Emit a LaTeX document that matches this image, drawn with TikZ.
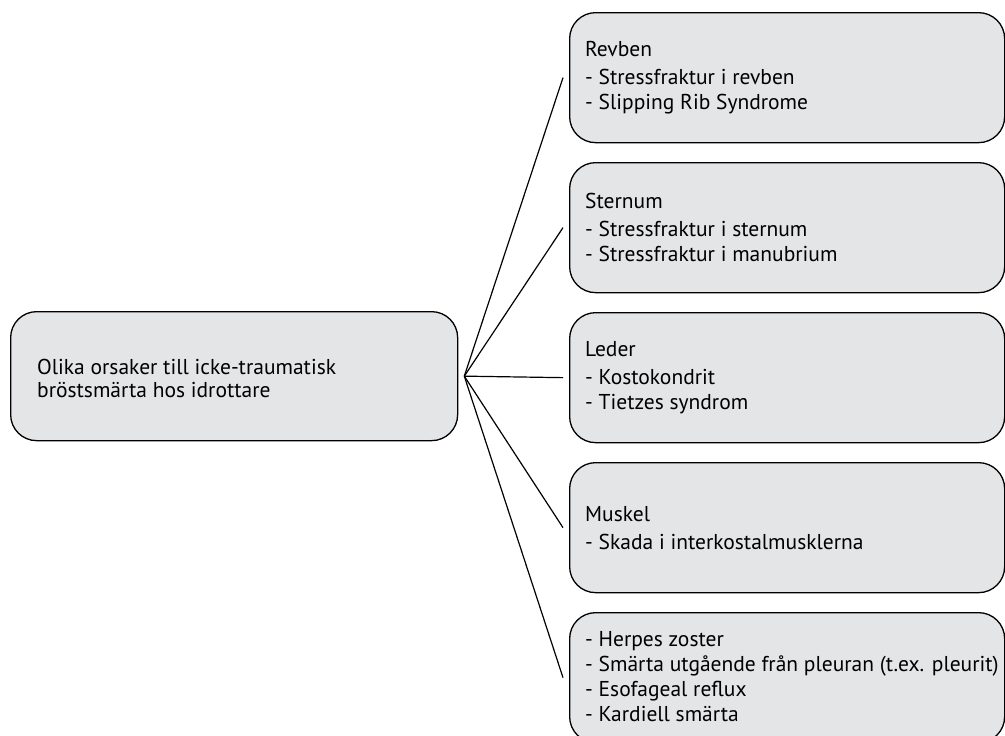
\documentclass[tikz,border=0pt]{standalone}
\usepackage{fontspec}
\setmainfont{PT Sans}
\definecolor{boxgray}{RGB}{228,229,231}
\tikzset{
  x=1pt, y=-1pt,
  rbox/.style={draw=black, line width=1.3pt, fill=boxgray, rounded corners=26pt, minimum width=435pt, minimum height=130pt, inner sep=0pt, anchor=north west},
  lbox/.style={draw=black, line width=1.3pt, fill=boxgray, rounded corners=26pt, minimum width=447pt, minimum height=129pt, inner sep=0pt, anchor=north west},
  txt/.style={anchor=west, align=left, inner sep=0pt, font=\fontsize{21.5}{25}\selectfont},
  conn/.style={line width=1.2pt}
}
\begin{document}
\begin{tikzpicture}
\useasboundingbox (0,0) rectangle (1005,736);
\clip (0,0) rectangle (1005,736);
\node[lbox] (src) at (10,311) {};
\node[txt, font=\fontsize{21.5}{23}\selectfont] (srct) at ([xshift=27pt,yshift=-2pt]src.west) {Olika orsaker till icke-traumatisk\\bröstsmärta hos idrottare};
\node[rbox] (b1) at (569,12) {};
\node[rbox] (b2) at (569,162) {};
\node[rbox] (b3) at (569,312) {};
\node[rbox] (b4) at (569,462) {};
\node[rbox] (b5) at (569,612) {};
\node[txt] (t1) at ([xshift=16pt]b1.west) {Revben\\[3pt]- Stressfraktur i revben\\- Slipping Rib Syndrome};
\node[txt] (t2) at ([xshift=16pt]b2.west) {Sternum\\[3pt]- Stressfraktur i sternum\\- Stressfraktur i manubrium};
\node[txt] (t3) at ([xshift=16pt]b3.west) {Leder\\[3pt]- Kostokondrit\\- Tietzes syndrom};
\node[txt] (t4) at ([xshift=16pt]b4.west) {Muskel\\[3pt]- Skada i interkostalmusklerna};
\node[txt] (t5) at ([xshift=16pt,yshift=1pt]b5.west) {- Herpes zoster\\- Smärta utgående från pleuran (t.ex. pleurit)\\- Esofageal reflux\\- Kardiell smärta};
\coordinate (hub) at ([xshift=6pt]src.east);
\foreach \b in {b1,b2,b3,b4,b5}{
  \draw[conn] (hub) -- ([xshift=-6pt]\b.west);
}
\end{tikzpicture}
\end{document}
